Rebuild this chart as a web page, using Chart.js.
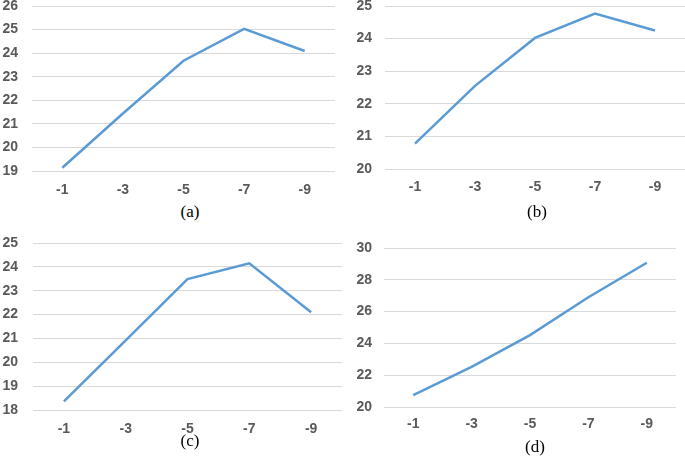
<!DOCTYPE html>
<html>
<head>
<meta charset="utf-8">
<script src="https://cdn.jsdelivr.net/npm/chart.js@4/dist/chart.umd.min.js"></script>
<style>
  html, body { margin: 0; padding: 0; background: #ffffff; }
  body { width: 685px; height: 458px; position: relative; overflow: hidden; }
  .panel { position: absolute; }
  .cap { position: absolute; font-family: "Liberation Serif", "DejaVu Serif", serif; font-size: 17px; color: #000; transform: translate(-50%, -50%); white-space: nowrap; }
</style>
</head>
<body>
<div class="panel" id="pa" style="left:0px;top:0px;width:342px;height:200px;"><canvas id="ca"></canvas></div>
<div class="panel" id="pb" style="left:342px;top:0px;width:343px;height:200px;"><canvas id="cb"></canvas></div>
<div class="panel" id="pc" style="left:0px;top:229px;width:344px;height:210px;"><canvas id="cc"></canvas></div>
<div class="panel" id="pd" style="left:342px;top:229px;width:343px;height:206px;"><canvas id="cd"></canvas></div>
<div class="cap" style="left:190px;top:212px;">(a)</div>
<div class="cap" style="left:537px;top:212px;">(b)</div>
<div class="cap" style="left:190px;top:441px;">(c)</div>
<div class="cap" style="left:535px;top:447px;">(d)</div>
<script>
// ---- data ----
const categories = ['-1', '-3', '-5', '-7', '-9'];
const seriesA = [19.14, 21.44, 23.68, 25.03, 24.09];
const seriesB = [20.78, 22.55, 24.02, 24.77, 24.25];
const seriesC = [18.36, 20.92, 23.49, 24.15, 22.10];
const seriesD = [20.74, 22.52, 24.52, 26.90, 29.07];
// y-axis ranges: [min, max, step]
const yRangeA = [19, 26, 1];
const yRangeB = [20, 25, 1];
const yRangeC = [18, 25, 1];
const yRangeD = [20, 30, 2];

const LINE_COLOR = '#5b9bd5';
const GRID_COLOR = '#d9d9d9';
const TICK_COLOR = '#595959';
const TICK_FONT = { family: '"Liberation Sans", Arial, sans-serif', size: 14, weight: 'bold' };

function makeChart(id, data, range, cfg) {
  return new Chart(document.getElementById(id), {
    type: 'line',
    data: {
      labels: categories,
      datasets: [{
        data: data,
        borderColor: LINE_COLOR,
        borderWidth: 2.5,
        pointRadius: 0,
        pointHoverRadius: 0,
        tension: 0,
        fill: false
      }]
    },
    options: {
      responsive: true,
      maintainAspectRatio: false,
      animation: false,
      events: [],
      layout: { padding: { top: cfg.top, right: cfg.right, left: 0, bottom: 0 } },
      plugins: { legend: { display: false }, tooltip: { enabled: false }, title: { display: false } },
      scales: {
        x: {
          offset: true,
          grid: { display: false, drawTicks: false },
          border: { display: false },
          ticks: { color: TICK_COLOR, font: TICK_FONT, padding: cfg.xPad, maxRotation: 0, autoSkip: false },
          afterFit: (s) => { s.height = cfg.xHeight; s.paddingLeft = 0; s.paddingRight = 0; }
        },
        y: {
          min: range[0],
          max: range[1],
          grid: { color: GRID_COLOR, lineWidth: 1, drawTicks: false },
          border: { display: false },
          ticks: { stepSize: range[2], color: TICK_COLOR, font: TICK_FONT, padding: cfg.yPad },
          afterFit: (s) => { s.width = cfg.yWidth; s.paddingTop = 0; s.paddingBottom = 0; }
        }
      }
    }
  });
}

makeChart('ca', seriesA, yRangeA, { top: 6, right: 7, yWidth: 32, xHeight: 29, xPad: 11, yPad: 14 });
makeChart('cb', seriesB, yRangeB, { top: 6, right: 0, yWidth: 43, xHeight: 31, xPad: 10, yPad: 13 });
makeChart('cc', seriesC, yRangeC, { top: 14, right: 2, yWidth: 33, xHeight: 29, xPad: 11, yPad: 15 });
makeChart('cd', seriesD, yRangeD, { top: 19, right: 9, yWidth: 42, xHeight: 28, xPad: 9, yPad: 12 });
</script>
</body>
</html>
